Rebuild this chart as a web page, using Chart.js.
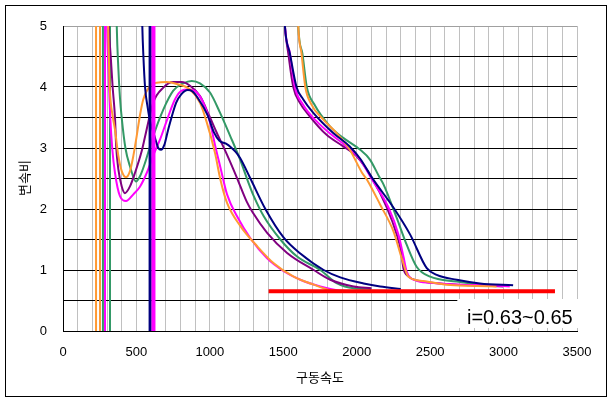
<!DOCTYPE html>
<html><head><meta charset="utf-8">
<script src="https://cdn.jsdelivr.net/npm/chart.js@4/dist/chart.umd.min.js"></script>
<style>html,body{margin:0;padding:0;background:#fff;}canvas{display:block;}</style>
</head><body>
<canvas id="c" width="613" height="403"></canvas>
<script>
// ---- tick labels / texts ----
const xTickLabels = [0, 500, 1000, 1500, 2000, 2500, 3000, 3500];
const yTickLabels = [0, 1, 2, 3, 4, 5];
const xTitle = '구동속도';
const yTitle = '변속비';
const noteText = 'i=0.63~0.65';

// ---- series values [speed, ratio] ----
const navyLow = [[535,5.6],[540,5.0],[547,4.53],[559,3.99],[577,3.66],[593,3.44],[627,3.16],[649,3.0],[667,2.97],[690,3.05],[714,3.28],[770,3.74],[805,3.88],[850,3.95],[880,3.93],[918,3.82],[986,3.53],[1027,3.26],[1065,3.12],[1110,3.07],[1145,3.01],[1174,2.94],[1205,2.84],[1276,2.5],[1378,2.0],[1503,1.53],[1616,1.27],[1775,1.0],[1888,0.88],[2047,0.78],[2160,0.73],[2300,0.69]];
const navyHigh = [[1500,5.6],[1511,5.0],[1545,4.55],[1590,4.0],[1635,3.8],[1703,3.58],[1838,3.25],[1951,3.03],[2025,2.82],[2105,2.51],[2251,2.02],[2364,1.58],[2477,1.03],[2545,0.92],[2681,0.84],[2839,0.78],[3065,0.75]];

const orangeLow = [[303,5.6],[307,5.0],[312,4.5],[318,4.0],[340,3.5],[354,3.3],[377,2.87],[400,2.62],[429,2.52],[456,2.62],[479,2.87],[502,3.2],[525,3.55],[547,3.80],[593,4.02],[638,4.07],[706,4.08],[775,4.05],[865,3.96],[933,3.74],[979,3.42],[1035,2.92],[1072,2.48],[1117,2.10],[1208,1.72],[1322,1.39],[1435,1.11],[1571,0.89],[1707,0.76],[1820,0.67],[1950,0.65]];
const orangeHigh = [[1595,5.6],[1602,5.0],[1624,4.55],[1650,4.0],[1690,3.72],[1771,3.47],[1861,3.25],[1951,2.98],[2035,2.6],[2070,2.48],[2160,2.07],[2251,1.63],[2307,1.19],[2352,0.89],[2454,0.82],[2613,0.76],[2771,0.74],[2952,0.73]];

const magentaLow = [[296,5.6],[300,5.0],[306,4.5],[314,4.0],[322,3.5],[335,3.0],[354,2.59],[388,2.21],[429,2.13],[479,2.24],[525,2.37],[570,2.59],[615,2.88],[661,3.14],[717,3.52],[763,3.80],[808,3.94],[854,3.96],[911,3.91],[956,3.74],[1001,3.42],[1035,3.05],[1072,2.68],[1117,2.24],[1185,1.88],[1276,1.52],[1390,1.19],[1503,0.98],[1616,0.84],[1752,0.73],[1866,0.67],[2000,0.65]];
const magentaHigh = [[1500,5.6],[1511,5.0],[1545,4.55],[1579,4.0],[1635,3.71],[1726,3.44],[1827,3.22],[1929,3.03],[2020,2.82],[2100,2.5],[2217,2.02],[2284,1.58],[2320,1.2],[2341,0.97],[2400,0.83],[2500,0.79],[2700,0.76],[2900,0.75],[3042,0.73]];

const purpleLow = [[305,5.6],[312,5.0],[325,4.5],[338,4.0],[354,3.5],[362,3.03],[377,2.65],[400,2.37],[422,2.26],[456,2.37],[490,2.59],[536,2.95],[560,3.2],[615,3.75],[683,3.99],[751,4.08],[808,4.08],[865,4.02],[933,3.85],[1001,3.50],[1047,3.25],[1115,2.90],[1183,2.52],[1251,2.12],[1290,1.95],[1390,1.61],[1526,1.28],[1707,1.0],[1820,0.84],[1979,0.73],[2100,0.70]];
const purpleHigh = [[1500,5.6],[1511,5.0],[1534,4.55],[1568,4.0],[1613,3.74],[1680,3.52],[1793,3.22],[1906,3.03],[1997,2.87],[2100,2.52],[2206,2.02],[2273,1.58],[2302,1.30],[2318,1.03],[2350,0.9],[2409,0.83],[2567,0.78],[2771,0.75],[2997,0.73]];

const greenLow = [[362,5.6],[366,5.0],[377,4.3],[388,3.82],[400,3.49],[425,3.0],[456,2.70],[497,2.45],[525,2.54],[559,2.76],[593,3.03],[615,3.2],[683,3.63],[751,3.94],[819,4.06],[877,4.10],[933,4.06],[1001,3.91],[1069,3.58],[1138,3.2],[1206,2.81],[1260,2.45],[1299,2.21],[1367,1.88],[1480,1.50],[1594,1.22],[1752,1.0],[1866,0.78],[1979,0.70],[2100,0.69]];
const greenHigh = [[1595,5.6],[1602,5.0],[1630,4.55],[1660,4.0],[1710,3.72],[1816,3.36],[1906,3.17],[2019,2.98],[2090,2.81],[2155,2.52],[2183,2.40],[2273,1.85],[2341,1.41],[2409,1.05],[2500,0.89],[2681,0.81],[2839,0.76],[2997,0.74]];

// vertical segments (speed positions), drawn from ratio 0 to above 5
const orangeVerticalX = [225, 252];
const greenVerticalX = [272, 320];
const magentaVerticalX = [286];
const magentaThickX = [616];
const navyThickX = [593];
const verticalSpan = [0, 5.6];

// target ratio band line
const redLineX = [1400, 3350];
const redLineY = [0.65, 0.65];

const C = {navy:'#000080', orange:'#FF9933', magenta:'#FF00FF', purple:'#800080', green:'#339966', red:'#FF0000'};

function curve(pts, color, w) {
  return {data: pts.map(p => ({x:p[0], y:p[1]})), borderColor: color, borderWidth: w,
    showLine: true, pointRadius: 0, fill: false, cubicInterpolationMode: 'monotone'};
}
function verticals(xs, color, w) {
  return xs.map(x => ({data: verticalSpan.map(v => ({x:x, y:v})), borderColor: color, borderWidth: w,
    showLine: true, pointRadius: 0, fill: false}));
}

// dataset 0 is drawn on top
const datasets = [
  {data: redLineX.map((x,i)=>({x:x, y:redLineY[i]})), borderColor: C.red, borderWidth: 4, showLine:true, pointRadius:0, fill:false},
  ...verticals(magentaThickX, C.magenta, 4),
  ...verticals(navyThickX, C.navy, 3),
  curve(navyLow, C.navy, 2),
  curve(navyHigh, C.navy, 2),
  curve(orangeLow, C.orange, 2),
  curve(orangeHigh, C.orange, 2),
  curve(magentaLow, C.magenta, 2),
  curve(magentaHigh, C.magenta, 2),
  curve(purpleLow, C.purple, 2),
  curve(purpleHigh, C.purple, 2),
  curve(greenLow, C.green, 2),
  curve(greenHigh, C.green, 2),
  ...verticals(orangeVerticalX, C.orange, 2),
  ...verticals(greenVerticalX, C.green, 2),
  ...verticals(magentaVerticalX, C.magenta, 2)
];

const KFONT = '"Noto Sans CJK KR", "Noto Sans", sans-serif';

const decor = {
  id: 'decor',
  beforeDatasetsDraw(chart) {
    const {ctx, chartArea: a, scales: {x}} = chart;
    ctx.save();
    ctx.fillStyle = '#ffffff';
    const left = x.getPixelForValue(2685);
    ctx.fillRect(left, a.bottom - 32, a.right + 2 - left, 29);
    ctx.restore();
  },
  afterDraw(chart) {
    const {ctx, chartArea: a} = chart;
    ctx.save();
    ctx.fillStyle = '#000';
    ctx.font = '20px "Liberation Sans", Arial, sans-serif';
    ctx.textAlign = 'left';
    ctx.textBaseline = 'middle';
    ctx.fillText(noteText, 467, 318);
    ctx.font = '13px ' + KFONT;
    ctx.textAlign = 'center';
    ctx.fillText(xTitle, (a.left + a.right) / 2, 377);
    ctx.translate(24, 178);
    ctx.rotate(-Math.PI / 2);
    ctx.fillText(yTitle, 0, 0);
    ctx.restore();
    ctx.save();
    ctx.strokeStyle = '#000';
    ctx.lineWidth = 1;
    ctx.strokeRect(5.5, 5.5, 601, 391);
    ctx.restore();
  }
};

new Chart(document.getElementById('c'), {
  type: 'scatter',
  data: {datasets},
  options: {
    responsive: false,
    animation: false,
    devicePixelRatio: 1,
    layout: {padding: {top: 26, right: 36, left: 0, bottom: 0}},
    plugins: {legend: {display: false}, tooltip: {enabled: false}},
    scales: {
      x: {
        type: 'linear', min: 0, max: 3500,
        afterFit: s => { s.height = 72; },
        ticks: {stepSize: 100, autoSkip: false, maxRotation: 0, padding: 14, color: '#000',
          font: {family: '"Liberation Sans", Arial, sans-serif', size: 13},
          callback: v => xTickLabels.includes(v) ? String(v) : ''},
        grid: {color: '#C0C0C0', lineWidth: 1, drawTicks: false},
        border: {color: '#000', width: 1}
      },
      y: {
        type: 'linear', min: 0, max: 5,
        afterFit: s => { s.width = 63; },
        ticks: {stepSize: 0.5, autoSkip: false, padding: 16, color: '#000',
          font: {family: '"Liberation Sans", Arial, sans-serif', size: 13},
          callback: v => yTickLabels.includes(v) ? String(v) : ''},
        grid: {color: ctx => (ctx.tick && ctx.tick.value === 5) ? '#A0A0A0' : '#000000', lineWidth: 1, drawTicks: false},
        border: {color: '#000', width: 1}
      }
    }
  },
  plugins: [decor]
});
</script>
</body></html>
